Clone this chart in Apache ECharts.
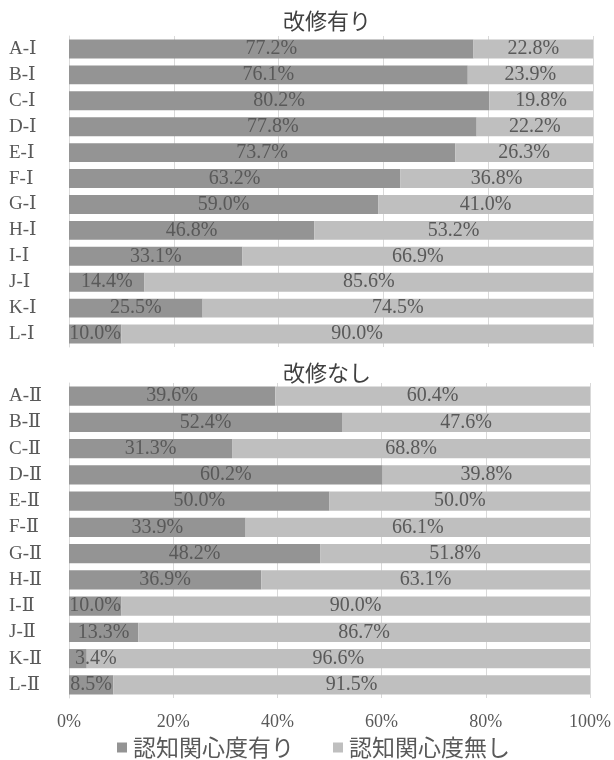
<!DOCTYPE html>
<html>
<head>
<meta charset="utf-8">
<script src="https://cdn.jsdelivr.net/npm/echarts@6/dist/echarts.min.js"></script>
<style>
html,body{margin:0;padding:0;background:#fff;}
#chart{width:614px;height:760px;}
</style>
</head>
<body>
<div id="chart"></div>
<script>
const titleTop = '改修有り';
const titleBottom = '改修なし';
const seriesNames = ['認知関心度有り', '認知関心度無し'];
const categoriesTop = ['A-Ⅰ','B-Ⅰ','C-Ⅰ','D-Ⅰ','E-Ⅰ','F-Ⅰ','G-Ⅰ','H-Ⅰ','I-Ⅰ','J-Ⅰ','K-Ⅰ','L-Ⅰ'];
const categoriesBottom = ['A-Ⅱ','B-Ⅱ','C-Ⅱ','D-Ⅱ','E-Ⅱ','F-Ⅱ','G-Ⅱ','H-Ⅱ','I-Ⅱ','J-Ⅱ','K-Ⅱ','L-Ⅱ'];
const topAware = [77.2, 76.1, 80.2, 77.8, 73.7, 63.2, 59.0, 46.8, 33.1, 14.4, 25.5, 10.0];
const topUnaware = [22.8, 23.9, 19.8, 22.2, 26.3, 36.8, 41.0, 53.2, 66.9, 85.6, 74.5, 90.0];
const bottomAware = [39.6, 52.4, 31.3, 60.2, 50.0, 33.9, 48.2, 36.9, 10.0, 13.3, 3.4, 8.5];
const bottomUnaware = [60.4, 47.6, 68.8, 39.8, 50.0, 66.1, 51.8, 63.1, 90.0, 86.7, 96.6, 91.5];
const xTicks = [0, 20, 40, 60, 80, 100];

const SERIF = '"Liberation Serif", "DejaVu Serif", "Noto Sans CJK JP", serif';
const CJK = '"Noto Sans CJK JP", sans-serif';
const darkColor = '#949494';
const lightColor = '#bfbfbf';
const textColor = '#595959';

function items(values) {
  return values.map(v => v < 5
    ? { value: v, label: { position: 'insideLeft', distance: 6 } }
    : { value: v });
}
const labelCfg = {
  show: true,
  position: 'inside',
  color: textColor,
  fontFamily: SERIF,
  fontSize: 20,
  formatter: p => p.value.toFixed(1) + '%'
};
function xAxisCfg(idx, showLabels) {
  return {
    type: 'value', gridIndex: idx, min: xTicks[0], max: xTicks[xTicks.length - 1], interval: 20,
    axisLine: { show: false }, axisTick: { show: false },
    splitLine: { show: true, lineStyle: { color: '#d9d9d9', width: 1 } },
    axisLabel: { show: showLabels, formatter: '{value}%', color: textColor, fontFamily: SERIF, fontSize: 18, margin: 15 }
  };
}
function yAxisCfg(idx, cats) {
  return {
    type: 'category', gridIndex: idx, data: cats, inverse: true,
    axisLine: { show: true, lineStyle: { color: '#d9d9d9', width: 1 } },
    axisTick: { show: false },
    axisLabel: { color: textColor, fontFamily: SERIF, fontSize: 19, margin: 60, align: 'left' }
  };
}
function bar(name, idx, values, color, stack) {
  return {
    name, type: 'bar', xAxisIndex: idx, yAxisIndex: idx, stack,
    barWidth: '73%', data: items(values),
    itemStyle: { color }, label: labelCfg, emphasis: { disabled: true }
  };
}

const chart = echarts.init(document.getElementById('chart'), null, { renderer: 'canvas' });
chart.setOption({
  animation: false,
  title: [
    { text: titleTop, left: 278, top: 5, textStyle: { fontFamily: CJK, fontSize: 22, fontWeight: 'normal', color: '#404040' } },
    { text: titleBottom, left: 278, top: 357, textStyle: { fontFamily: CJK, fontSize: 22, fontWeight: 'normal', color: '#404040' } }
  ],
  legend: {
    data: seriesNames, left: 112, top: 731, itemWidth: 10, itemHeight: 10, itemGap: 39,
    icon: 'rect',
    textStyle: { fontFamily: CJK, fontSize: 23, color: textColor, padding: [0, 0, 0, 1] }
  },
  grid: [
    { left: 69, right: 21, top: 36, height: 311 },
    { left: 69, right: 21, top: 383, height: 315 }
  ],
  xAxis: [xAxisCfg(0, false), xAxisCfg(1, true)],
  yAxis: [yAxisCfg(0, categoriesTop), yAxisCfg(1, categoriesBottom)],
  series: [
    bar(seriesNames[0], 0, topAware, darkColor, 'top'),
    bar(seriesNames[1], 0, topUnaware, lightColor, 'top'),
    bar(seriesNames[0], 1, bottomAware, darkColor, 'bottom'),
    bar(seriesNames[1], 1, bottomUnaware, lightColor, 'bottom')
  ]
});
</script>
</body>
</html>
